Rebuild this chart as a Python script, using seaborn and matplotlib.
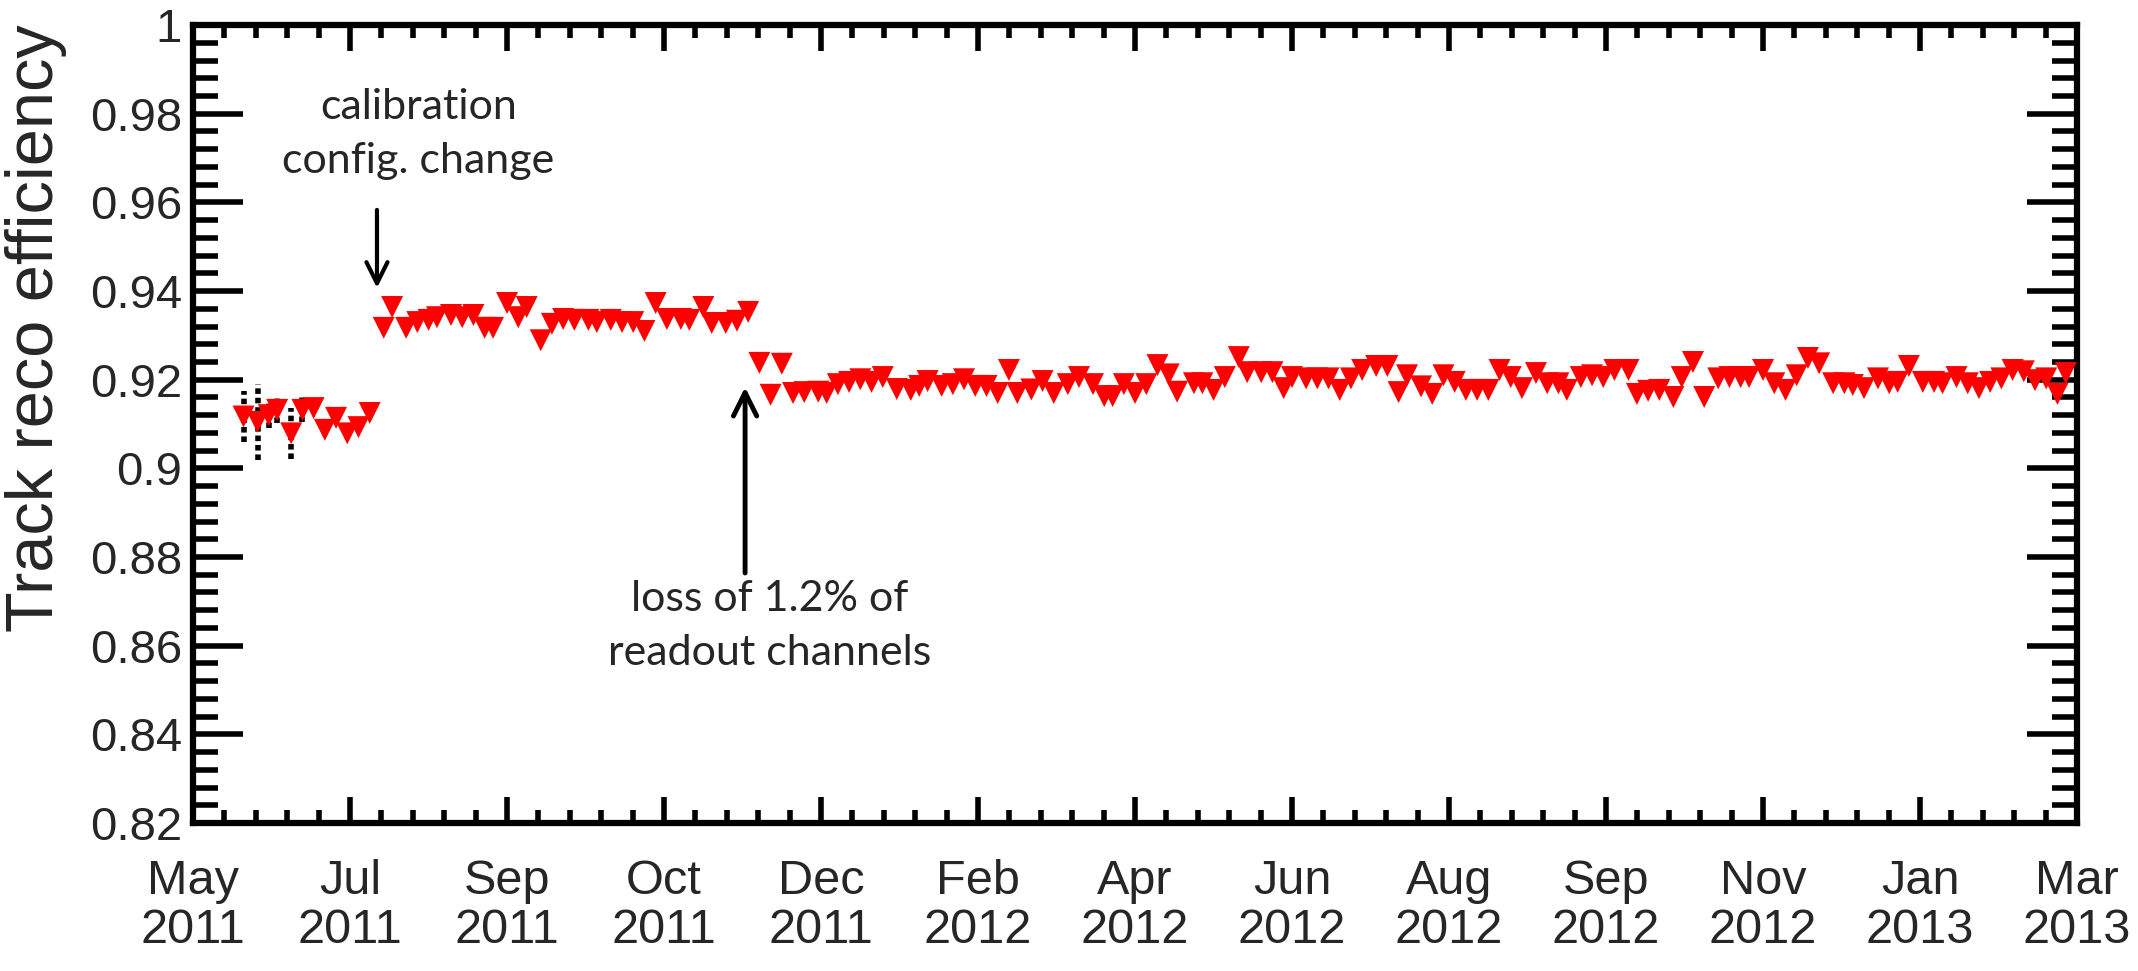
import matplotlib
matplotlib.use("Agg")
import matplotlib.pyplot as plt
import seaborn as sns
import numpy as np
import pandas as pd
from matplotlib.ticker import FixedLocator

# ---------------- data (days counted from 2011-05-01) ----------------
days_a = [30, 35, 39, 42, 47, 51, 55, 59, 63, 67, 71, 75]
eff_a = [0.9117, 0.9105, 0.9120, 0.9132, 0.9079, 0.9132, 0.9136, 0.9087,
         0.9114, 0.9079, 0.9093, 0.9125]
err_a = [0.0057, 0.0085, 0.0030, 0.0030, 0.0057, 0.0028, 0, 0, 0, 0, 0, 0]

days_b = [80, 83, 88, 92, 96, 99, 104, 108, 112, 116, 119, 124, 128, 131, 136,
          140, 144, 148, 153, 156, 161, 165, 169, 173, 177, 181, 186, 189, 194,
          197, 202, 206, 210]
eff_b = [0.9317, 0.9364, 0.9317, 0.9330, 0.9335, 0.9341, 0.9346, 0.9341,
         0.9346, 0.9317, 0.9317, 0.9373, 0.9341, 0.9364, 0.9289, 0.9326,
         0.9337, 0.9335, 0.9335, 0.9330, 0.9335, 0.9330, 0.9330, 0.9310,
         0.9373, 0.9337, 0.9337, 0.9335, 0.9364, 0.9328, 0.9328, 0.9333,
         0.9353]

days_c = [214, 218, 222, 226, 230, 235, 238, 242, 246, 250, 254, 258, 263, 268,
          271, 274, 279, 283, 287, 291, 295, 299, 303, 306, 311, 315, 319, 324,
          328, 333, 337, 340, 344, 348, 352, 356, 360, 363, 369, 372, 376, 380,
          385, 388, 393, 397, 401, 404, 409, 413, 417, 421, 425, 429, 434, 438,
          442, 445]
eff_c = [0.9238, 0.9166, 0.9236, 0.9170, 0.9172, 0.9173, 0.9170, 0.9190,
         0.9195, 0.9201, 0.9195, 0.9206, 0.9179, 0.9177, 0.9186, 0.9197,
         0.9186, 0.9190, 0.9201, 0.9186, 0.9186, 0.9170, 0.9222, 0.9170,
         0.9178, 0.9197, 0.9170, 0.9190, 0.9206, 0.9190, 0.9163, 0.9163,
         0.9190, 0.9170, 0.9190, 0.9233, 0.9212, 0.9173, 0.9192, 0.9192,
         0.9177, 0.9206, 0.9251, 0.9217, 0.9217, 0.9217, 0.9181, 0.9206,
         0.9203, 0.9203, 0.9203, 0.9177, 0.9203, 0.9222, 0.9231, 0.9231,
         0.9172, 0.9210]

days_d = [450, 454, 458, 462, 466, 470, 474, 478, 482, 486, 491, 495, 499, 502,
          507, 511, 515, 519, 524, 527, 531, 535, 540, 543, 547, 551, 556, 560,
          564, 567, 572, 576, 580, 584, 588, 592, 597, 601, 604, 608, 613, 617,
          620, 624, 629, 633, 636, 641, 645, 649, 653, 657, 661, 665, 669, 673,
          677, 680]
eff_d = [0.9185, 0.9168, 0.9210, 0.9195, 0.9177, 0.9177, 0.9177, 0.9222,
         0.9206, 0.9181, 0.9215, 0.9192, 0.9192, 0.9177, 0.9206, 0.9210,
         0.9206, 0.9222, 0.9222, 0.9168, 0.9175, 0.9177, 0.9161, 0.9206,
         0.9240, 0.9161, 0.9203, 0.9206, 0.9206, 0.9206, 0.9222, 0.9192,
         0.9177, 0.9210, 0.9249, 0.9237, 0.9192, 0.9192, 0.9188, 0.9181,
         0.9203, 0.9192, 0.9195, 0.9231, 0.9195, 0.9195, 0.9192, 0.9206,
         0.9192, 0.9181, 0.9195, 0.9203, 0.9222, 0.9219, 0.9199, 0.9203,
         0.9168, 0.9215]

xtick_labels = ["May\n2011", "Jul\n2011", "Sep\n2011", "Oct\n2011", "Dec\n2011",
                "Feb\n2012", "Apr\n2012", "Jun\n2012", "Aug\n2012", "Sep\n2012",
                "Nov\n2012", "Jan\n2013", "Mar\n2013"]
ytick_values = [0.82, 0.84, 0.86, 0.88, 0.90, 0.92, 0.94, 0.96, 0.98, 1.0]
ytick_labels = ["0.82", "0.84", "0.86", "0.88", "0.9", "0.92", "0.94", "0.96",
                "0.98", "1"]
ylabel = "Track reco efficiency"
note_calib = "calibration\nconfig. change"
note_loss = "loss of 1.2% of\nreadout channels"

# ---------------- layout constants ----------------
axis_start = 12      # day at left edge of the axis
tick_step = 56       # days between labelled ticks
n_ticks = len(xtick_labels)
axis_end = axis_start + tick_step * (n_ticks - 1)

sns.set_style("white")
plt.rcParams["font.family"] = ["Liberation Sans", "DejaVu Sans"]

fig = plt.figure(figsize=(21.38, 9.71), dpi=100)
ax = fig.add_axes([0.0903, 0.1524, 0.8812, 0.8218])

df = pd.DataFrame({"day": days_a + days_b + days_c + days_d,
                   "eff": eff_a + eff_b + eff_c + eff_d})

eb = ax.errorbar(days_a, eff_a, yerr=err_a, fmt="none", ecolor="black",
                 elinewidth=4, capsize=0, zorder=1)
for lc in eb[2]:
    lc.set_linestyle((0, (1.0, 0.7)))

sns.scatterplot(data=df, x="day", y="eff", marker="v", s=250, color="#ff0000",
                edgecolor="none", linewidth=0, ax=ax, zorder=3, legend=False)

ax.set_xlim(axis_start, axis_end)
ax.set_ylim(0.82, 1.0)
major_x = [axis_start + tick_step * k for k in range(n_ticks)]
ax.xaxis.set_major_locator(FixedLocator(major_x))
ax.set_xticklabels(xtick_labels)
ax.xaxis.set_minor_locator(FixedLocator(np.arange(axis_start, axis_end + 0.1, tick_step / 5)))
ax.yaxis.set_major_locator(FixedLocator(ytick_values))
ax.set_yticklabels(ytick_labels)
ax.yaxis.set_minor_locator(FixedLocator(np.arange(0.82, 1.0001, 0.004)))
ax.set_xlabel("")
ax.set_ylabel("")

ax.tick_params(axis="both", which="both", direction="in", top=True, right=True,
               bottom=True, left=True, color="black")
ax.tick_params(axis="y", which="major", length=36, width=4, pad=8, labelsize=34)
ax.tick_params(axis="y", which="minor", length=18, width=4)
ax.tick_params(axis="x", which="major", length=19, width=4, pad=26, labelsize=35)
ax.tick_params(axis="x", which="minor", length=9.5, width=4)
for lab in ax.get_xticklabels():
    lab.set_linespacing(1.1)
for sp in ax.spines.values():
    sp.set_linewidth(4.5)
    sp.set_color("black")

ax.set_ylabel(ylabel, fontsize=48)
ax.yaxis.set_label_coords(-0.067, 0.62)

ax.text(92.3, 0.9754, note_calib, ha="center", va="center", fontsize=31,
        family=["Lato", "DejaVu Sans"], linespacing=1.5, zorder=5)
ax.annotate("", xy=(77.6, 0.9407), xytext=(77.6, 0.9583),
            arrowprops=dict(arrowstyle="->", lw=3, color="black",
                            mutation_scale=38, shrinkA=0, shrinkB=0))
ax.text(217.8, 0.8644, note_loss, ha="center", va="center", fontsize=31,
        family=["Lato", "DejaVu Sans"], linespacing=1.5, zorder=5)
ax.annotate("", xy=(208.9, 0.9183), xytext=(208.9, 0.8764),
            arrowprops=dict(arrowstyle="->", lw=3.5, color="black",
                            mutation_scale=42, shrinkA=0, shrinkB=0))

fig.savefig("out.png", dpi=100)
